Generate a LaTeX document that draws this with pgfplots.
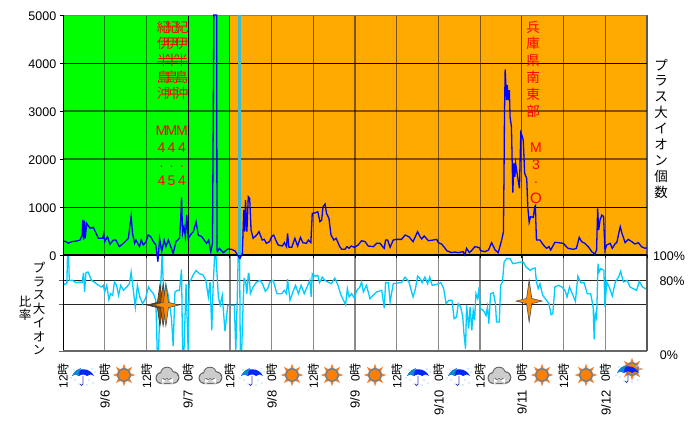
\documentclass[border=0pt]{standalone}
\usepackage{fontspec}
\usepackage{pgfplots}
\pgfplotsset{compat=1.18}
\setmainfont{Liberation Sans}
\newfontfamily\jp{Noto Sans CJK JP}
\definecolor{bggreen}{HTML}{00FF00}
\definecolor{bgorange}{HTML}{FFAA00}
\definecolor{ioncyan}{HTML}{00CCFF}
\definecolor{band}{HTML}{40BBD0}
\definecolor{sunor}{HTML}{F08030}
\pgfdeclareplotmark{fourstar}{%
  \pgfpathmoveto{\pgfpoint{0pt}{21pt}}%
  \pgfpathlineto{\pgfpoint{2.6pt}{2.6pt}}%
  \pgfpathlineto{\pgfpoint{13pt}{0pt}}%
  \pgfpathlineto{\pgfpoint{2.6pt}{-2.6pt}}%
  \pgfpathlineto{\pgfpoint{0pt}{-21pt}}%
  \pgfpathlineto{\pgfpoint{-2.6pt}{-2.6pt}}%
  \pgfpathlineto{\pgfpoint{-13pt}{0pt}}%
  \pgfpathlineto{\pgfpoint{-2.6pt}{2.6pt}}%
  \pgfpathclose
  \pgfusepathqfillstroke}
\tikzset{
 sunicon/.pic={
  \foreach \a in {0,45,...,315}{\fill[sunor] (\a:11.5)--(\a+22:5.5)--(\a-22:5.5)--cycle;}
  \fill[gray] (0,0) circle (7);
  \fill[orange] (0,0) circle (5.3);
 },
 rainicon/.pic={
  \fill[blue!85!cyan] (-11,-1) .. controls (-7,8) and (7,8) .. (11,-1) .. controls (8,1) and (6,1) .. (4,-1) .. controls (2,1) and (-2,1) .. (-4,-1) .. controls (-6,1) and (-8,1) .. (-11,-1) -- cycle;
  \fill[cyan!70!blue] (-11,-1) .. controls (-8,5) and (-5,6) .. (-2,7) .. controls (-4,3) and (-4,1) .. (-4,-1) .. controls (-6,1) and (-8,1) .. (-11,-1) -- cycle;
  \draw[blue!45!gray,line width=.8pt] (0,-1) -- (0,-9) arc[start angle=0,end angle=-180,radius=1.5];
  \foreach \p in {(-9,5),(9,6),(-8,-5),(-4,-9),(6,-5),(10,-8),(4,-10),(-12,-3),(12,3)}{\fill[cyan!35] \p circle (.9);}
 },
 cloudicon/.pic={
  \fill[gray!75!black] (-5.5,-2) circle (6) (0,2.5) circle (6.8) (6,-1.5) circle (6.3) (-5.5,-8.2) rectangle (6,-2);
  \fill[gray!40] (-5.5,-2) circle (5) (0,2.5) circle (5.8) (6,-1.5) circle (5.3) (-5.5,-7) rectangle (6,-2);
 }
}
\newcommand{\vstack}[5]{% x, first y (pixels from top), step, font, list
  \foreach \c [count=\i from 0] in {#5}{\node[inner sep=0pt,font=#4] at (#1,{436-(#2)-\i*(#3)}) {\c};}}
\begin{document}
\begin{tikzpicture}[x=1pt,y=1pt]
\useasboundingbox (0,0) rectangle (700,436);
\fill[white] (0,0) rectangle (700,436);
\fill[bggreen] (63,181) rectangle (230,421);
\fill[bgorange] (230,181) rectangle (647,421);

% lower panel: plus-ion ratio
\begin{axis}[name=low,at={(63pt,85pt)},anchor=south west,scale only axis,width=584pt,height=96pt,
  xmin=0,xmax=168,ymin=0,ymax=100,clip=true,
  axis line style={draw=none},
  xtick={0,12,...,168},
  xticklabels={12\jp 時,0\jp 時,12\jp 時,0\jp 時,12\jp 時,0\jp 時,12\jp 時,0\jp 時,12\jp 時,0\jp 時,12\jp 時,0\jp 時,12\jp 時,0\jp 時,},
  xticklabel style={rotate=90,anchor=east,font=\fontsize{12}{12}\selectfont,inner sep=0pt,xshift=-8pt},
  xtick style={draw=none},
  ytick={0,49,74},yticklabels={,,},ytick pos=left,
  ytick style={black!60,line width=.8pt},tick align=outside,major tick length=4pt]
\foreach \h in {12,24,48,60,72,84,96,108,120,144,156}{\edef\x{\noexpand\draw[black!45,line width=1.5pt] (axis cs:\h,0)--(axis cs:\h,100);}\x}
\draw[black!80,line width=.7pt] (axis cs:36,0)--(axis cs:36,100);
\draw[black!80,line width=.7pt] (axis cs:132,0)--(axis cs:132,100);
\draw[black!85,line width=.8pt] (axis cs:0,74)--(axis cs:168,74);
\draw[black!85,line width=.8pt] (axis cs:0,49)--(axis cs:168,49);
\addplot[ioncyan,line width=1.3pt] coordinates {
(0.1,68.4)(0.6,70)(1.1,70)(1.3,99.6)(1.6,99.6)(1.8,73.6)(2.8,73.6)(3.7,71.2)(4.9,71.9)(5.5,71.2)(5.9,81.6)(6.2,61.5)(6.6,81.6)(7.2,82.3)(8.2,73.6)(9.2,71.2)(10.2,68.4)(11.1,66.7)(11.6,68.4)(12.0,61.5)(12.6,68.4)(13.2,53.5)(13.7,59.7)(14.3,58)(14.8,71.9)(15.4,68.4)(16.0,58)(16.6,68.4)(17.4,63.2)(18.3,66.7)(19.1,70.1)(19.6,82.3)(20.0,70.1)(20.8,45.8)(21.4,68.4)(22.1,56.3)(22.9,49.3)(23.7,54.5)(24.6,66.7)(25.2,63.2)(26.0,59.7)(26.7,52.8)(27.1,0)(27.5,0)(27.9,51)(28.5,100)(29.1,51)(29.6,68.4)(30.3,58)(31.2,33.7)(31.7,5.2)(32.2,61.5)(32.9,63.2)(33.5,63)(34.1,85)(34.4,0)(34.8,0)(35.4,70)(36.0,0)(36.3,71.9)(36.7,73.6)(37.5,79.5)(38.3,84)(39.2,80.6)(40.2,79.5)(41.1,73.6)(41.8,56.3)(42.3,71.9)(42.8,21.5)(43.2,68.4)(43.6,99)(44.0,99)(44.7,56.3)(45.2,47.6)(45.8,58)(46.6,20.5)(47.4,47.6)(48.9,47.6)(49.3,47.6)(49.7,0)(50.1,51)(50.4,99.7)(50.8,99.7)(51.0,0)(51.4,0)(51.8,47.6)(52.1,75.3)(52.5,73.6)(52.9,59.7)(53.3,80.6)(53.5,80.6)(53.9,59.7)(54.7,66.7)(55.7,71.9)(56.7,73.6)(57.4,70)(58.2,62.2)(58.9,65)(59.5,71.9)(60.5,73.6)(61.5,59.7)(62.9,59.7)(63.7,63.2)(64.3,59.7)(64.6,74.7)(65.3,52.8)(66.2,62.2)(66.9,68.4)(67.7,59.7)(68.5,68.4)(69.4,59.7)(70.4,68.4)(71.0,73.6)(71.4,56.3)(71.7,80.6)(72.5,78)(73.3,78.8)(73.8,71.2)(74.6,77)(75.3,73.6)(76.2,71.9)(77.2,70.1)(78.2,76)(79.1,68.4)(80.0,58)(81.3,48.3)(81.8,65)(82.3,56.3)(83.0,59.7)(83.8,55)(84.5,63)(85.4,66.7)(85.9,72)(86.4,61.5)(87.3,68.4)(88.3,54.5)(89.2,58)(90.2,61.5)(91.7,63.2)(92.4,44.8)(92.8,71.2)(93.6,71.2)(94.1,51)(95.0,70.1)(96.0,70.8)(97.4,71.2)(98.4,77)(99.5,71.9)(100.7,56.3)(101.4,65)(102.0,78)(102.7,75.3)(103.3,71.2)(104.1,77)(104.9,70)(105.5,77)(106.2,68.4)(107.5,69.4)(108.7,71.2)(109.5,65)(110.2,49.3)(111.0,52.8)(111.9,52.8)(112.5,33.7)(113.2,35.4)(113.7,49.3)(114.4,45.8)(115.0,35.4)(115.3,19.8)(115.8,2.4)(116.1,47.6)(116.7,23.3)(117.1,45.8)(117.6,21.5)(118.0,42.4)(118.4,32)(118.8,59.7)(119.3,54.5)(119.7,66.7)(120.0,44)(120.9,42.4)(121.7,37)(122.1,45.8)(122.5,28.5)(123.0,59.7)(123.8,60.8)(124.4,49.3)(124.7,30.2)(125.5,30.2)(125.9,68.4)(126.4,71.9)(126.9,92.7)(127.6,96.2)(128.6,96.2)(129.4,91)(130.6,91.7)(131.7,92.7)(132.4,92.7)(133.2,87.5)(134.4,84)(135.1,85.8)(135.8,86.5)(136.2,71.9)(136.7,65)(137.2,70.1)(138.0,58)(139.1,52.8)(139.8,49.3)(140.4,37.8)(140.9,38.9)(141.5,66.7)(142.5,68.4)(143.5,66.7)(144.4,63.2)(145.0,56.3)(145.7,66.7)(146.3,61.5)(147.4,51.7)(148.1,78)(148.9,71.2)(149.9,71.2)(150.8,59.7)(151.8,59.7)(152.5,45.8)(152.8,12.2)(153.1,38.9)(153.5,33.7)(153.9,91)(154.2,82.3)(154.7,85.8)(155.6,84)(155.9,45.8)(156.4,71.9)(157.1,66.7)(158.0,57.3)(158.9,71.9)(159.8,77)(160.4,83)(161.2,71.9)(162.3,73.6)(163.1,66.7)(164.0,65)(165.0,63.2)(165.8,72.6)(166.7,66.7)(167.9,64.2)};
\addplot[only marks,mark=fourstar,mark options={fill=orange!60!black,draw=black!80,line width=.6pt}] coordinates {(27.9,47.9)};
\addplot[only marks,mark=fourstar,mark options={fill=orange!85!black,draw=black!80,line width=.6pt}] coordinates {(28.8,47.9)};
\addplot[only marks,mark=fourstar,mark options={fill=orange!90!yellow,draw=black!70,line width=.6pt}] coordinates {(29.6,47.9)};
\addplot[only marks,mark=fourstar,mark options={fill=orange!90!yellow,draw=black!70,line width=.6pt}] coordinates {(134.1,52)};
\end{axis}
\foreach \x/\d in {105/6,188/7,272/8,355/9,439/10,522/11,606/12}{\node[rotate=90,anchor=east,inner sep=0pt,font=\fontsize{13}{13}\selectfont] at (\x,46) {9/\d};}
\draw[black,line width=.9pt] (63,85)--(63,181);
\draw[black!60,line width=1.3pt] (63,85)--(647,85);
\draw[black!65,line width=1.5pt] (647,85)--(647,421);

% upper panel: plus-ion count
\begin{axis}[name=up,at={(63pt,181pt)},anchor=south west,scale only axis,width=584pt,height=240pt,
  xmin=0,xmax=168,ymin=0,ymax=5000,clip=false,
  axis line style={draw=none},
  xtick={0,12,...,168},xticklabels={},xtick pos=bottom,
  ytick={0,1000,...,5000},ytick pos=left,
  tick style={black,line width=.8pt},tick align=outside,major tick length=3.5pt,
  yticklabel style={font=\fontsize{12.5}{13}\selectfont,inner sep=0pt,xshift=-3pt,yshift=-1pt},
  /pgf/number format/1000 sep={},/pgf/number format/assume math mode=true]
\foreach \h in {12,24,48,60,72,84,96,108,120,144,156}{\edef\x{\noexpand\draw[black,opacity=.5,line width=1.2pt] (axis cs:\h,0)--(axis cs:\h,5000);}\x}
\draw[black,line width=.6pt] (axis cs:36,0)--(axis cs:36,5000);
\draw[black,opacity=.6,line width=.8pt] (axis cs:132,0)--(axis cs:132,5000);
\draw[black,line width=.7pt] (axis cs:0,4000)--(axis cs:168,4000);
\draw[black,line width=.7pt] (axis cs:0,1000)--(axis cs:168,1000);
\draw[black,opacity=.5,line width=1.3pt] (axis cs:0,3000)--(axis cs:168,3000);
\draw[black,opacity=.5,line width=1.3pt] (axis cs:0,2000)--(axis cs:168,2000);
\draw[black,line width=1.3pt] (axis cs:0,0)--(axis cs:168,0);
\draw[black!50,line width=.6pt] (axis cs:0,5000)--(axis cs:168,5000);
\draw[black,line width=.9pt] (axis cs:0,0)--(axis cs:0,5000);
\addplot[band,line width=3pt] coordinates {(50.9,0)(50.9,5000)};
\addplot[blue,line width=1.3pt] coordinates {
(0.1,291)(0.9,278)(1.5,243)(2.5,278)(3.9,291)(4.9,312)(5.5,416)(5.7,729)(5.9,312)(6.2,715)(6.4,347)(6.8,659)(7.8,555)(8.7,576)(9.3,486)(10.2,347)(11.4,347)(11.7,437)(12.0,278)(12.8,382)(13.5,222)(14.5,312)(15.2,312)(16.2,174)(17.4,243)(18.8,347)(19.6,812)(20.0,451)(20.6,243)(21.0,312)(22.0,174)(22.5,312)(23.1,208)(23.9,278)(24.5,416)(25.2,382)(26.0,278)(26.7,208)(27.3,-139)(27.8,347)(28.4,69)(29.1,312)(29.6,174)(30.3,312)(31.0,174)(31.7,35)(32.5,278)(33.5,347)(33.8,659)(34.1,1200)(34.4,451)(34.8,590)(35.2,382)(35.6,833)(36.0,347)(37.0,451)(37.5,486)(38.3,694)(38.9,416)(39.9,382)(41.3,243)(41.9,312)(42.5,69)(43.0,243)(43.4,5000)(43.8,5000)(44.2,5000)(44.3,100)(44.4,69)(45.0,139)(46.1,49)(47.4,125)(48.5,118)(49.5,83)(50.2,0)(50.9,-69)(51.6,35)(52.0,937)(52.3,486)(52.5,1145)(52.9,486)(53.3,1215)(53.7,1180)(54.1,520)(54.7,347)(55.7,416)(56.4,486)(57.3,312)(57.9,326)(58.5,243)(59.4,278)(60.0,382)(60.6,416)(61.2,312)(61.9,208)(63.1,187)(63.7,257)(64.3,174)(64.6,451)(65.0,160)(65.8,160)(66.7,347)(67.5,187)(68.3,368)(69.0,257)(70.0,243)(70.6,312)(71.3,257)(71.7,868)(72.7,881)(73.3,902)(73.9,694)(74.4,729)(74.8,1006)(75.4,1062)(75.8,868)(76.5,763)(77.1,416)(77.9,312)(78.6,347)(79.6,174)(80.2,118)(81.1,118)(81.7,174)(82.3,139)(82.9,187)(83.8,160)(84.9,208)(85.9,298)(86.9,278)(87.8,187)(89.3,174)(90.2,243)(91.2,243)(91.8,187)(92.4,139)(92.8,312)(93.4,312)(94.1,160)(95.0,312)(96.0,326)(97.4,326)(98.4,416)(99.5,382)(100.7,278)(102.0,486)(102.7,382)(103.2,333)(103.9,396)(105.1,298)(106.5,312)(107.5,326)(108.0,257)(108.9,229)(109.7,160)(110.4,90)(111.8,49)(112.6,62)(113.7,49)(115.1,69)(115.6,0)(116.1,139)(116.9,49)(117.5,90)(118.5,174)(119.8,153)(120.1,90)(121.4,69)(122.4,104)(123.3,257)(124.3,104)(125.2,49)(126.2,312)(126.7,486)(126.9,1978)(127.0,2950)(127.2,3866)(127.6,3227)(127.8,3539)(128.1,3227)(128.4,3435)(128.6,2880)(129.0,2672)(129.2,1978)(129.4,1298)(129.7,1908)(130.0,1631)(130.2,1908)(130.7,1666)(131.3,1388)(131.5,1978)(131.7,2547)(132.0,2498)(132.4,2394)(132.8,1700)(133.4,1596)(133.7,1006)(134.1,680)(134.5,798)(135.3,784)(135.7,1006)(135.9,1027)(136.0,729)(136.2,312)(137.2,312)(138.2,208)(139.1,139)(139.8,174)(140.3,104)(141.5,264)(142.5,257)(143.9,243)(145.3,139)(146.8,118)(147.7,139)(148.5,368)(149.2,278)(150.1,243)(151.1,174)(152.1,69)(153.0,21)(153.5,104)(153.8,972)(154.1,520)(154.5,729)(155.0,833)(155.5,798)(155.9,104)(156.4,208)(157.4,243)(158.0,139)(158.9,243)(159.3,257)(160.3,590)(160.8,451)(161.7,257)(162.6,326)(163.6,278)(164.5,229)(165.5,257)(166.4,174)(167.4,139)(167.9,153)};
\end{axis}

% earthquake notes
\vstack{163.5}{27}{16.7}{\jp\color{red}\fontsize{13.5}{14}\selectfont}{紀,伊,半,島,沖}
\vstack{172}{27}{16.7}{\jp\color{red}\fontsize{13.5}{14}\selectfont}{紀,伊,半,島,沖}
\vstack{181.5}{27}{16.7}{\jp\color{red}\fontsize{13.5}{14}\selectfont}{紀,伊,半,島,沖}
\foreach \x/\v in {161.5/4,171.5/5,182/4}{
 \node[inner sep=0pt,text=red,font=\fontsize{14}{14}\selectfont] at (\x,305) {M};
 \node[inner sep=0pt,text=red,font=\fontsize{14}{14}\selectfont] at (\x,288) {4};
 \node[inner sep=0pt,text=red,font=\fontsize{14}{14}\selectfont] at (\x,269) {.};
 \node[inner sep=0pt,text=red,font=\fontsize{14}{14}\selectfont] at (\x,255) {\v};
}
\vstack{533}{27}{16.8}{\jp\color{red}\fontsize{13.5}{14}\selectfont}{兵,庫,県,南,東,部}
\node[inner sep=0pt,text=red,font=\fontsize{14}{14}\selectfont] at (536,288) {M};
\node[inner sep=0pt,text=red,font=\fontsize{14}{14}\selectfont] at (536,271) {3};
\node[inner sep=0pt,text=red,font=\fontsize{14}{14}\selectfont] at (536,253) {.};
\node[inner sep=0pt,text=red,font=\fontsize{15}{15}\selectfont] at (536,238) {O};

% axis titles
\vstack{661}{65}{15.9}{\jp\fontsize{13.5}{14}\selectfont}{プ,ラ,ス,大,イ,オ,ン,個,数}
\vstack{39}{268}{13.7}{\jp\fontsize{12.5}{13}\selectfont}{プ,ラ,ス,大,イ,オ,ン}
\vstack{25}{302}{13}{\jp\fontsize{12.5}{13}\selectfont}{比,率}
\node[inner sep=0pt,font=\fontsize{12.5}{13}\selectfont] at (669,180) {100\%};
\node[inner sep=0pt,font=\fontsize{12.5}{13}\selectfont] at (672,155) {80\%};
\node[inner sep=0pt,font=\fontsize{12.5}{13}\selectfont] at (669,81) {0\%};

% weather icons
\foreach \x in {83,252,418,459}{\pic at (\x,61) {rainicon};}
\foreach \x in {124,292,332,375,542,586}{\pic at (\x,61) {sunicon};}
\foreach \x in {167,210,499}{\pic at (\x,60) {cloudicon};}
\pic at (632,67) {sunicon};
\pic at (628,64) {rainicon};
\end{tikzpicture}
\end{document}
